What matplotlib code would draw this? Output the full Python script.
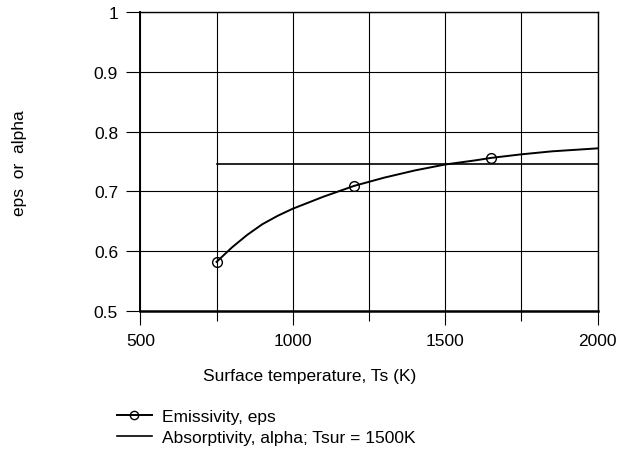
import numpy as np
import matplotlib
matplotlib.use("Agg")
import matplotlib.pyplot as plt

plt.rcParams['font.family'] = ['Liberation Sans', 'DejaVu Sans']

# --- data ---
ts = [750, 800, 850, 900, 950, 1000, 1050, 1100, 1150, 1200, 1250, 1300, 1350,
      1400, 1450, 1500, 1600, 1650, 1750, 1850, 2000]
eps = [0.582, 0.606, 0.627, 0.645, 0.659, 0.671, 0.681, 0.691, 0.700, 0.709, 0.716,
       0.723, 0.729, 0.735, 0.740, 0.745, 0.752, 0.756, 0.762, 0.767, 0.772]
marker_idx = [0, 9, 17]   # 750, 1200, 1650 K
ts_alpha = [750, 2000]
alpha = [0.745, 0.745]

xticks = [500, 1000, 1500, 2000]
xminor = [750, 1250, 1750]
yticks = [0.5, 0.6, 0.7, 0.8, 0.9, 1.0]
ylabels = ['0.5', '0.6', '0.7', '0.8', '0.9', '1']

fig = plt.figure(figsize=(6.21, 4.52), dpi=100)
ax = fig.add_axes([0.226, 0.310, 0.7365, 0.661])

ax.plot(ts, eps, color='black', lw=1.4, marker='o', markevery=marker_idx,
        markersize=7, markerfacecolor='none', markeredgecolor='black',
        markeredgewidth=1.0, label='Emissivity, eps')
ax.plot(ts_alpha, alpha, color='black', lw=1.2,
        label='Absorptivity, alpha; Tsur = 1500K')

ax.set_xlim(500, 2000)
ax.set_ylim(0.5, 1.0)
ax.set_xticks(xticks)
ax.set_xticks(xminor, minor=True)
ax.set_yticks(yticks, ylabels)
ax.grid(which='both', color='black', lw=0.8)
ax.tick_params(which='major', direction='out', length=10, width=0.8, labelsize=12.5, pad=6)
ax.tick_params(which='minor', direction='out', length=7, width=0.8)
ax.tick_params(axis='y', pad=6)
for s in ax.spines.values():
    s.set_linewidth(1.0)
ax.spines['bottom'].set_linewidth(1.8)
ax.spines['left'].set_linewidth(1.4)

fig.text(310 / 621, 1 - 377 / 452, 'Surface temperature, Ts (K)', fontsize=12.5,
         ha='center', va='center')
fig.text(20 / 621, 1 - 163 / 452, 'eps  or  alpha', fontsize=12.5, rotation=90,
         ha='center', va='center')

fig.legend(loc='upper left', bbox_to_anchor=(117 / 621, 1 - 410 / 452), frameon=False,
           fontsize=12.5, handlelength=2.0, handletextpad=0.6, labelspacing=0.35,
           borderpad=0, borderaxespad=0, markerscale=0.85)

fig.savefig('out.png', dpi=100)
